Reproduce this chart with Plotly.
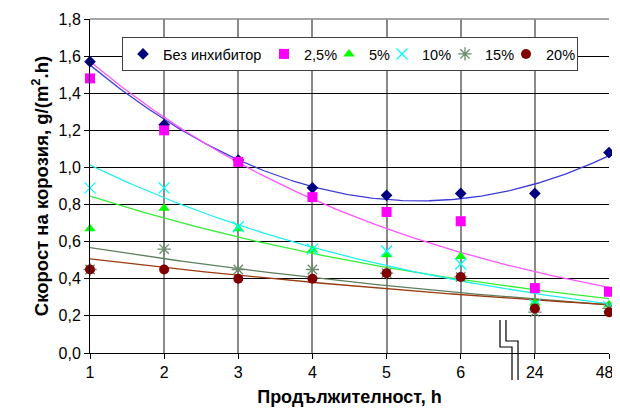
import numpy as np
import plotly.graph_objects as go

categories = ["1", "2", "3", "4", "5", "6", "24", "48\u2007"]
series_names = ["Без инхибитор", "2,5%", "5%", "10%", "15%", "20%"]
v_none = [1.57, 1.23, 1.04, 0.89, 0.85, 0.86, 0.86, 1.08]
v_25 = [1.48, 1.20, 1.03, 0.84, 0.76, 0.71, 0.35, 0.33]
v_5 = [0.67, 0.78, 0.67, 0.555, 0.53, 0.52, 0.27, 0.26]
v_10 = [0.89, 0.89, 0.68, 0.56, 0.55, 0.48, 0.26, 0.25]
v_15 = [0.45, 0.56, 0.45, 0.45, 0.43, 0.41, 0.22, 0.24]
v_20 = [0.45, 0.45, 0.40, 0.40, 0.43, 0.41, 0.24, 0.22]
trend_kind = ["poly2", "exp", "exp", "exp", "exp", "exp"]

values = [v_none, v_25, v_5, v_10, v_15, v_20]
marker_colors = ["#000080", "#FF00FF", "#00FF00", "#00FFFF", "#6B8A6B", "#800000"]
line_colors = ["#3C3CD8", "#FF55FF", "#33EE33", "#22EEEE", "#5E7F5E", "#9A3A10"]
symbols = ["diamond", "square", "triangle-up", "x-thin-open", "asterisk-open", "circle"]
sizes = [9, 10, 10, 11, 11, 10]
legend_widths = [96, 20, 8, 18, 16, 26]

pos = np.arange(1, len(categories) + 1)
xs = np.linspace(1, len(categories), 200)

fig = go.Figure()

# trend lines (fitted from the data, as Excel does)
for i, vals in enumerate(values):
    y = np.array(vals)
    if trend_kind[i] == "poly2":
        c = np.polyfit(pos, y, 2)
        yt = np.polyval(c, xs)
    else:
        c = np.polyfit(pos, np.log(y), 1)
        yt = np.exp(np.polyval(c, xs))
    fig.add_trace(go.Scatter(x=xs, y=yt, mode="lines", showlegend=False,
                             line=dict(color=line_colors[i], width=1.3),
                             hoverinfo="skip"))

for i, vals in enumerate(values):
    m = dict(symbol=symbols[i], size=sizes[i], color=marker_colors[i])
    if symbols[i] in ("x-thin-open", "asterisk-open"):
        m["line"] = dict(color=marker_colors[i], width=1.3)
    else:
        m["line"] = dict(width=0)
    fig.add_trace(go.Scatter(x=pos, y=vals, mode="markers", name=series_names[i],
                             marker=m, cliponaxis=False,
                             legendwidth=legend_widths[i]))

# page is shown with an 8px body margin, so the figure is made smaller
OFF = 8
FW, FH = 620 - OFF, 410 - OFF
L, R, T, B = 90, 609, 19, 353
W, H = R - L, B - T

def px(x):
    return (x - L) / W

def py(y):
    return (B - y) / H

# axis break symbol
for pts in ([(500, 320), (500, 347), (512, 347), (512, 380)],
            [(506, 320), (506, 341), (518, 341), (518, 380)]):
    path = "M " + " L ".join(f"{px(a):.4f},{py(b):.4f}" for a, b in pts)
    fig.add_shape(type="path", path=path, xref="paper", yref="paper",
                  line=dict(color="black", width=1.2))

# grey top border
fig.add_shape(type="line", xref="paper", yref="paper", x0=0, x1=1, y0=1, y1=1,
              line=dict(color="#888888", width=1.5))

fig.update_layout(
    width=FW, height=FH,
    margin=dict(l=L - OFF, r=620 - R, t=T - OFF, b=(FH + OFF) - B, autoexpand=False),
    paper_bgcolor="white", plot_bgcolor="white",
    separators=",.",
    font=dict(family="Liberation Sans, Arial, sans-serif", size=16, color="black"),
    showlegend=True,
    legend=dict(orientation="h", x=px(122), y=py(37), xanchor="left", yanchor="top",
                bgcolor="white", bordercolor="#404040", borderwidth=1,
                font=dict(size=14.5), itemwidth=30, tracegroupgap=0),
    xaxis=dict(range=[1, len(categories)], tickmode="array", tickvals=pos.tolist(),
               ticktext=categories, showgrid=True, gridcolor="#8A8A8A", gridwidth=2,
               showline=True, linecolor="black", linewidth=1, ticks="outside",
               ticklen=5, tickcolor="black", zeroline=False,
               ticklabeloverflow="allow",
               title=dict(text="<b>Продължителност, h</b>", font=dict(size=18), standoff=10)),
    yaxis=dict(range=[0, 1.8], dtick=0.2, tick0=0, tickformat=".1f",
               showgrid=True, gridcolor="black", gridwidth=1,
               showline=True, linecolor="black", linewidth=1, ticks="outside",
               ticklen=5, tickcolor="black", zeroline=False,
               title=dict(text="<b>Скорост на корозия, g/(m<sup>2</sup>.h)</b>",
                          font=dict(size=18.5), standoff=5)),
)

fig.write_html("out.html")
